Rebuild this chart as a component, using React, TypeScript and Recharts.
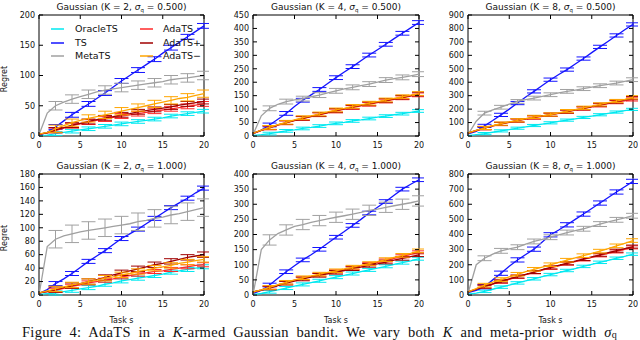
import React from 'react';
import { LineChart, Line, XAxis, YAxis, ErrorBar, ReferenceArea } from 'recharts';

// x positions (tasks) and where the error bars sit
const TASKS = [0, 1, 2, 3, 4, 5, 6, 7, 8, 9, 10, 11, 12, 13, 14, 15, 16, 17, 18, 19, 20];
const ERR_TASKS = [2, 4, 6, 8, 10, 12, 14, 16, 18, 20];
const X_TICKS = [0, 5, 10, 15, 20];

// y ticks per panel
const Y_TICKS_K2_05 = [0, 50, 100, 150, 200];
const Y_TICKS_K4_05 = [0, 50, 100, 150, 200, 250, 300, 350, 400, 450];
const Y_TICKS_K8_05 = [0, 100, 200, 300, 400, 500, 600, 700, 800, 900];
const Y_TICKS_K2_10 = [0, 20, 40, 60, 80, 100, 120, 140, 160, 180];
const Y_TICKS_K4_10 = [0, 50, 100, 150, 200, 250, 300, 350, 400];
const Y_TICKS_K8_10 = [0, 100, 200, 300, 400, 500, 600, 700, 800];

// K = 2, sigma_q = 0.500
const K2_05_ORACLE = [1, 1.5, 4, 6, 8, 10, 12, 14, 16, 18, 20, 22, 24, 26, 28, 30, 33, 35, 37, 39, 41];
const K2_05_TS = [2, 6, 15, 25, 35, 44, 53, 62, 71, 81, 91, 100, 109, 118, 127, 137, 146, 155, 164, 173, 182];
const K2_05_META = [2, 38, 50, 56, 61, 65, 69, 73, 76, 78, 80, 82, 84, 86, 88, 90, 93, 95, 96, 98, 100];
const K2_05_ADA = [3, 5, 9, 13, 17, 20, 23, 26, 28, 31, 33, 35, 37, 39, 41, 43, 45, 47, 49, 51, 53];
const K2_05_ADAP = [3, 5, 10, 14, 18, 21, 24, 27, 30, 32, 35, 37, 40, 42, 44, 46, 48, 51, 53, 55, 57];
const K2_05_ADAM = [3, 6, 12, 17, 22, 26, 29, 32, 35, 38, 41, 44, 47, 50, 53, 56, 59, 62, 64, 67, 70];
const K2_05_ERR = [3, 4, 7, 4, 4, 6];

// K = 4, sigma_q = 0.500
const K4_05_ORACLE = [2, 5, 9, 14, 19, 23, 28, 32, 37, 42, 47, 51, 56, 60, 65, 70, 74, 79, 83, 88, 93];
const K4_05_TS = [8, 22, 41, 62, 84, 110, 133, 153, 173, 195, 217, 238, 258, 280, 301, 321, 341, 362, 382, 402, 422];
const K4_05_META = [5, 75, 103, 118, 128, 134, 139, 146, 152, 160, 168, 175, 181, 187, 193, 200, 208, 213, 218, 224, 230];
const K4_05_ADA = [10, 21, 30, 40, 49, 57, 65, 72, 79, 86, 93, 100, 106, 112, 118, 124, 130, 136, 142, 148, 153];
const K4_05_ADAP = [10, 21, 31, 41, 50, 58, 66, 73, 80, 87, 95, 101, 108, 114, 120, 126, 132, 138, 144, 150, 156];
const K4_05_ADAM = [10, 22, 32, 42, 51, 60, 68, 75, 82, 90, 97, 103, 110, 116, 122, 128, 134, 140, 146, 152, 158];
const K4_05_ERR = [5, 7, 9, 7, 7, 7];

// K = 8, sigma_q = 0.500
const K8_05_ORACLE = [3, 10, 18, 28, 38, 48, 58, 68, 78, 88, 98, 108, 118, 128, 138, 148, 158, 168, 178, 188, 198];
const K8_05_TS = [15, 35, 75, 115, 157, 200, 245, 290, 332, 375, 419, 457, 494, 535, 576, 620, 663, 705, 748, 790, 830];
const K8_05_META = [10, 110, 170, 195, 214, 237, 257, 270, 282, 295, 307, 320, 332, 342, 352, 363, 374, 384, 394, 406, 419];
const K8_05_ADA = [22, 40, 58, 75, 89, 102, 114, 126, 137, 147, 157, 168, 180, 192, 204, 216, 228, 240, 252, 262, 272];
const K8_05_ADAP = [22, 41, 59, 76, 90, 103, 116, 128, 140, 150, 159, 170, 182, 194, 206, 219, 232, 244, 256, 268, 282];
const K8_05_ADAM = [24, 42, 60, 78, 92, 105, 117, 130, 142, 150, 160, 172, 185, 197, 210, 222, 235, 248, 260, 273, 288];
const K8_05_ERR = [8, 12, 14, 12, 12, 12];

// K = 2, sigma_q = 1.000
const K2_10_ORACLE = [1, 2, 3, 5, 7, 9, 11, 13, 16, 18, 21, 23, 25, 27, 29, 31, 34, 36, 38, 40, 42];
const K2_10_TS = [2, 8, 17, 24, 32, 41, 50, 58, 66, 75, 84, 91, 98, 106, 114, 122, 130, 137, 144, 152, 159];
const K2_10_META = [0, 72, 83, 88, 91, 94, 96, 98, 100, 102, 104, 106, 109, 111, 114, 116, 119, 121, 124, 127, 130];
const K2_10_ADA = [3, 5, 7, 10, 13, 15, 18, 20, 22, 24, 27, 29, 31, 33, 35, 36, 38, 40, 42, 44, 45];
const K2_10_ADAP = [3, 5, 8, 11, 14, 17, 20, 23, 26, 30, 33, 36, 39, 42, 45, 47, 50, 53, 56, 58, 60];
const K2_10_ADAM = [3, 6, 9, 12, 15, 17, 20, 22, 25, 27, 30, 32, 35, 37, 40, 42, 44, 47, 49, 51, 53];
const K2_10_ERR = [3, 3, 13, 3, 4, 4];

// K = 4, sigma_q = 1.000
const K4_10_ORACLE = [2, 5, 11, 17, 23, 29, 35, 41, 47, 53, 59, 65, 71, 77, 83, 89, 95, 101, 107, 113, 120];
const K4_10_TS = [5, 15, 33, 55, 77, 97, 116, 133, 151, 171, 191, 210, 230, 250, 271, 290, 309, 330, 350, 366, 381];
const K4_10_META = [0, 150, 182, 203, 215, 227, 233, 240, 246, 252, 257, 262, 267, 273, 280, 284, 290, 295, 300, 305, 311];
const K4_10_ADA = [10, 16, 24, 33, 41, 49, 55, 61, 67, 72, 78, 84, 90, 96, 102, 108, 114, 121, 128, 134, 141];
const K4_10_ADAP = [10, 16, 23, 31, 39, 46, 53, 59, 65, 70, 75, 81, 87, 92, 98, 103, 109, 115, 121, 127, 133];
const K4_10_ADAM = [10, 17, 25, 34, 42, 50, 57, 63, 69, 75, 80, 86, 92, 98, 104, 110, 117, 124, 131, 138, 146];
const K4_10_ERR = [5, 6, 17, 5, 6, 6];

// K = 8, sigma_q = 1.000
const K8_10_ORACLE = [5, 12, 24, 38, 52, 66, 80, 93, 107, 121, 135, 148, 162, 175, 189, 202, 216, 229, 243, 256, 270];
const K8_10_TS = [15, 30, 55, 100, 144, 190, 232, 268, 303, 350, 398, 430, 464, 500, 535, 572, 608, 645, 681, 716, 751];
const K8_10_META = [10, 200, 243, 270, 292, 305, 316, 336, 354, 368, 382, 398, 413, 425, 438, 454, 469, 483, 497, 510, 524];
const K8_10_ADA = [20, 38, 55, 72, 88, 104, 120, 135, 150, 165, 180, 193, 207, 220, 235, 248, 262, 275, 288, 302, 315];
const K8_10_ADAP = [20, 38, 56, 73, 90, 106, 122, 137, 152, 167, 182, 196, 210, 224, 238, 252, 266, 280, 293, 307, 320];
const K8_10_ADAM = [20, 42, 65, 85, 102, 120, 137, 155, 170, 185, 200, 215, 230, 245, 260, 275, 290, 307, 325, 342, 360];
const K8_10_ERR = [8, 14, 16, 10, 10, 12];

const SERIES = [
  { key: 'oracle', name: 'OracleTS', color: '#00e8f0' },
  { key: 'ts', name: 'TS', color: '#1414ff' },
  { key: 'meta', name: 'MetaTS', color: '#a0a0a0' },
  { key: 'ada', name: 'AdaTS', color: '#ff2a2a' },
  { key: 'adaP', name: 'AdaTS+', color: '#a00000' },
  { key: 'adaM', name: 'AdaTS\u2212', color: '#ffa500' },
];

const FONT = '"DejaVu Sans", sans-serif';
const AXIS_W = 40;
const PAD = 5;
const X_AXIS_H = 20;
const COL_LEFT = [39, 253, 468];
const COL_RIGHT = [204, 419, 633];
const ROW_TOP = [15, 174];
const ROW_BOTTOM = [136, 295];

const PANELS = [
  { k: 2, sigma: '0.500', yTicks: Y_TICKS_K2_05, values: [K2_05_ORACLE, K2_05_TS, K2_05_META, K2_05_ADA, K2_05_ADAP, K2_05_ADAM], errs: K2_05_ERR },
  { k: 4, sigma: '0.500', yTicks: Y_TICKS_K4_05, values: [K4_05_ORACLE, K4_05_TS, K4_05_META, K4_05_ADA, K4_05_ADAP, K4_05_ADAM], errs: K4_05_ERR },
  { k: 8, sigma: '0.500', yTicks: Y_TICKS_K8_05, values: [K8_05_ORACLE, K8_05_TS, K8_05_META, K8_05_ADA, K8_05_ADAP, K8_05_ADAM], errs: K8_05_ERR },
  { k: 2, sigma: '1.000', yTicks: Y_TICKS_K2_10, values: [K2_10_ORACLE, K2_10_TS, K2_10_META, K2_10_ADA, K2_10_ADAP, K2_10_ADAM], errs: K2_10_ERR },
  { k: 4, sigma: '1.000', yTicks: Y_TICKS_K4_10, values: [K4_10_ORACLE, K4_10_TS, K4_10_META, K4_10_ADA, K4_10_ADAP, K4_10_ADAM], errs: K4_10_ERR },
  { k: 8, sigma: '1.000', yTicks: Y_TICKS_K8_10, values: [K8_10_ORACLE, K8_10_TS, K8_10_META, K8_10_ADA, K8_10_ADAP, K8_10_ADAM], errs: K8_10_ERR },
];

function buildRows(values: number[][], errs: number[]) {
  return TASKS.map((t, i) => {
    const row: any = { task: t };
    SERIES.forEach((s, j) => {
      row[s.key] = values[j][i];
      if (ERR_TASKS.includes(t)) row[s.key + 'Err'] = errs[j];
    });
    return row;
  });
}

const Panel = ({ panel, col, row }: any) => {
  const left = COL_LEFT[col];
  const top = ROW_TOP[row];
  const plotW = COL_RIGHT[col] - left;
  const plotH = ROW_BOTTOM[row] - top;
  const width = plotW + AXIS_W + PAD;
  const height = plotH + PAD + X_AXIS_H;
  const yMax = panel.yTicks[panel.yTicks.length - 1];
  const data = buildRows(panel.values, panel.errs);

  // ticks point inwards on all four sides, like the original plot
  const yTick = (p: any) => (
    <g>
      <line x1={AXIS_W} x2={AXIS_W + 4} y1={p.y} y2={p.y} stroke="#000" />
      <line x1={AXIS_W + plotW - 4} x2={AXIS_W + plotW} y1={p.y} y2={p.y} stroke="#000" />
      <text x={p.x} y={p.y} dy="0.35em" textAnchor="end" fontSize={8} fontFamily={FONT} fill="#111">
        {p.payload.value}
      </text>
    </g>
  );
  const xTick = (p: any) => (
    <g>
      <line x1={p.x} x2={p.x} y1={PAD + plotH - 4} y2={PAD + plotH} stroke="#000" />
      <line x1={p.x} x2={p.x} y1={PAD} y2={PAD + 4} stroke="#000" />
      <text x={p.x} y={p.y} dy="0.71em" textAnchor="middle" fontSize={8} fontFamily={FONT} fill="#111">
        {p.payload.value}
      </text>
    </g>
  );

  return (
    <>
      <div
        style={{
          position: 'absolute', left, width: plotW, top: top - 13, height: 10, lineHeight: '10px',
          textAlign: 'center', fontSize: 9, fontFamily: FONT, color: '#111', whiteSpace: 'nowrap',
        }}
      >
        Gaussian (K = {panel.k}, <i>σ</i>
        <span style={{ fontSize: '0.6em', position: 'relative', top: '0.35em' }}>q</span> = {panel.sigma})
      </div>
      {col === 0 && (
        <div
          style={{
            position: 'absolute', left: 4.5 - 20, top: (top + plotH / 2 + 3) - 5, width: 40, height: 10,
            lineHeight: '10px', textAlign: 'center', fontSize: 8, fontFamily: FONT, color: '#111',
            transform: 'rotate(-90deg)',
          }}
        >
          Regret
        </div>
      )}
      {row === 1 && (
        <div
          style={{
            position: 'absolute', left, width: plotW, top: 315.5, height: 9, lineHeight: '9px',
            textAlign: 'center', fontSize: 8, fontFamily: FONT, color: '#111',
          }}
        >
          Task s
        </div>
      )}
      <div style={{ position: 'absolute', left: left - AXIS_W, top: top - PAD }}>
        <LineChart width={width} height={height} data={data} margin={{ top: PAD, right: PAD, bottom: 0, left: 0 }}>
          <XAxis
            dataKey="task" type="number" domain={[0, 20]} ticks={X_TICKS} interval={0}
            axisLine={false} tickLine={false} tickSize={0} tickMargin={6} height={X_AXIS_H} tick={xTick}
          />
          <YAxis
            type="number" domain={[0, yMax]} ticks={panel.yTicks} interval={0} width={AXIS_W}
            axisLine={false} tickLine={false} tickSize={0} tickMargin={4} tick={yTick}
          />
          <ReferenceArea x1={0} x2={20} y1={0} y2={yMax} fill="none" stroke="#000" strokeOpacity={1} />
          {SERIES.map((s) => (
            <Line
              key={s.key} dataKey={s.key} name={s.name} type="linear" stroke={s.color}
              strokeWidth={1.3} dot={false} isAnimationActive={false}
            >
              <ErrorBar dataKey={s.key + 'Err'} width={7} stroke={s.color} strokeWidth={1} direction="y" isAnimationActive={false} />
            </Line>
          ))}
        </LineChart>
      </div>
    </>
  );
};

const Legend2Col = () => {
  const cols = [SERIES.slice(0, 3), SERIES.slice(3)];
  const lineX = [51, 140];
  const textX = [75, 163];
  return (
    <>
      {cols.map((items, c) =>
        items.map((s, r) => (
          <div key={s.key} style={{ position: 'absolute', left: lineX[c], top: 29 + r * 13.5 - 6, height: 12, whiteSpace: 'nowrap' }}>
            <svg width={13} height={12} style={{ position: 'absolute', left: 0, top: 0 }}>
              <line x1={0} x2={13} y1={6} y2={6} stroke={s.color} strokeWidth={1.5} />
            </svg>
            <span
              style={{
                position: 'absolute', left: textX[c] - lineX[c], top: 0, lineHeight: '12px',
                fontSize: 9.5, fontFamily: FONT, color: '#111',
              }}
            >
              {s.name}
            </span>
          </div>
        ))
      )}
    </>
  );
};

export default function App() {
  return (
    <div style={{ position: 'absolute', left: 0, top: 0, width: 640, height: 340, overflow: 'hidden', background: '#fff' }}>
      {PANELS.map((p, i) => (
        <Panel key={i} panel={p} col={i % 3} row={Math.floor(i / 3)} />
      ))}
      <Legend2Col />
      <div
        style={{
          position: 'absolute', left: 22, top: 326.6, width: 595, height: 10, fontSize: 14.5, lineHeight: '10px',
          letterSpacing: 0.3, fontFamily: '"Liberation Serif", serif', color: '#111', whiteSpace: 'nowrap',
          textAlign: 'justify', textAlignLast: 'justify',
        }}
      >
        Figure 4: AdaTS in a <i>K</i>-armed Gaussian bandit. We vary both <i>K</i> and meta-prior width <i>σ</i>
        <span style={{ fontSize: '0.7em', position: 'relative', top: '0.12em' }}>q</span>
      </div>
    </div>
  );
}
